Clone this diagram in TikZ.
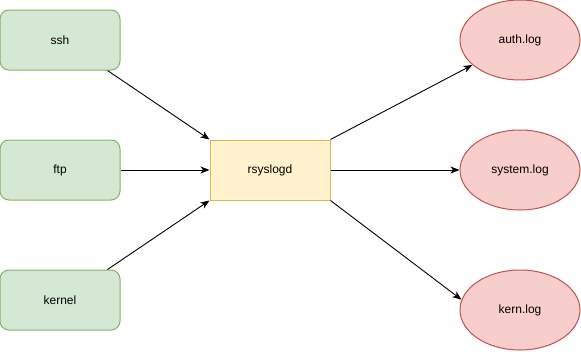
\documentclass[tikz,border=0pt]{standalone}
\usepackage{fontspec}
\setmainfont{Liberation Sans}
\usetikzlibrary{arrows.meta,calc,shapes.geometric}
\definecolor{gfill}{HTML}{D5E8D4}
\definecolor{gline}{HTML}{82B366}
\definecolor{yfill}{HTML}{FFF2CC}
\definecolor{yline}{HTML}{D6B656}
\definecolor{rfill}{HTML}{F8CECC}
\definecolor{rline}{HTML}{B85450}
\tikzset{
  src/.style={draw=gline, fill=gfill, rounded corners=9pt, minimum width=120pt, minimum height=60pt, inner sep=0pt, line width=1pt, font=\fontsize{12}{14}\selectfont},
  hub/.style={draw=yline, fill=yfill, minimum width=120pt, minimum height=60pt, inner sep=0pt, line width=1pt, font=\fontsize{12}{14}\selectfont},
  logf/.style={ellipse, draw=rline, fill=rfill, minimum width=120pt, minimum height=80pt, inner sep=0pt, line width=1pt, font=\fontsize{12}{14}\selectfont},
  conn/.style={draw=black, line width=0.9pt, -{Stealth[length=9pt,width=7pt,inset=2.5pt]}}
}
\begin{document}
\begin{tikzpicture}[x=1pt,y=1pt]
\useasboundingbox (0,0) rectangle (581,-351);
\node[src] (ssh) at (60,-40) {ssh};
\node[src] (ftp) at (60,-170) {ftp};
\node[src] (kernel) at (60,-300) {kernel};
\node[hub] (rs) at (270,-170) {rsyslogd};
\node[logf] (auth) at (520,-40) {auth.log};
\node[logf] (sys) at (520,-170) {system.log};
\node[logf] (kern) at (520,-310) {kern.log};
\coordinate (sshout) at ($(ssh.south east)+(-13,0)$);
\coordinate (kernout) at ($(kernel.north east)+(-13,0)$);
\draw[conn] (sshout) -- (rs.north west);
\draw[conn] (ftp.east) -- (rs.west);
\draw[conn] (kernout) -- (rs.south west);
\draw[conn] (rs.north east) -- (auth);
\draw[conn] (rs.east) -- (sys.west);
\draw[conn] (rs.south east) -- (kern.170);
\end{tikzpicture}
\end{document}
